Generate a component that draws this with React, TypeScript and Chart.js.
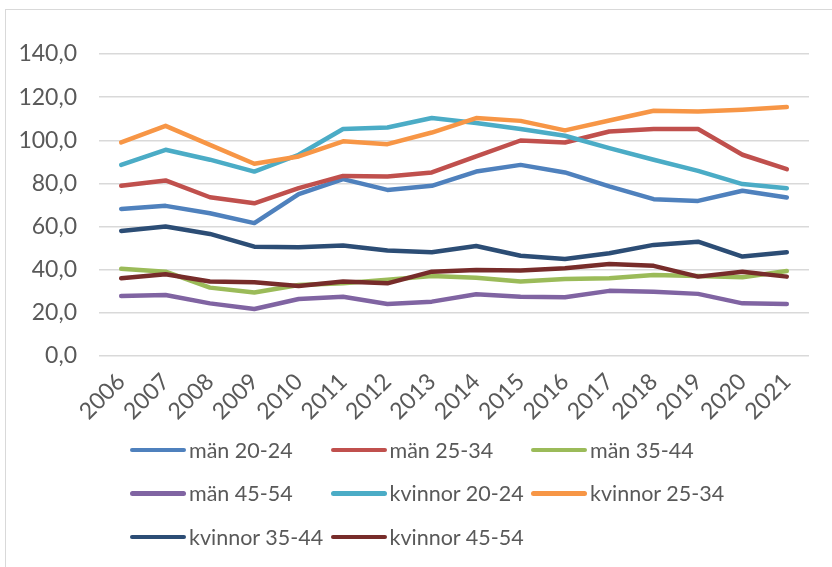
import React, { useEffect, useRef } from "react";
import { Chart, registerables } from "chart.js";

Chart.register(...registerables);

const years = ["2006", "2007", "2008", "2009", "2010", "2011", "2012", "2013", "2014", "2015", "2016", "2017", "2018", "2019", "2020", "2021"];
const man2024 = [68.2, 69.6, 66.2, 61.6, 75.0, 82.0, 77.0, 78.9, 85.5, 88.6, 85.1, 78.6, 72.7, 71.9, 76.6, 73.5];
const man2534 = [78.9, 81.4, 73.6, 70.8, 77.8, 83.5, 83.2, 85.1, 92.5, 99.9, 99.0, 104.1, 105.2, 105.2, 93.3, 86.6];
const man3544 = [40.4, 39.1, 31.7, 29.4, 32.9, 33.7, 35.3, 37.1, 36.3, 34.5, 35.7, 36.0, 37.6, 37.1, 36.5, 39.4];
const man4554 = [27.8, 28.3, 24.4, 21.8, 26.4, 27.5, 24.1, 25.2, 28.6, 27.5, 27.2, 30.2, 29.8, 28.8, 24.4, 24.1];
const kv2024 = [88.6, 95.6, 91.0, 85.5, 93.3, 105.2, 105.9, 110.3, 108.0, 105.2, 102.1, 96.4, 91.0, 85.8, 79.7, 77.8];
const kv2534 = [99.0, 106.7, 97.9, 89.1, 92.5, 99.5, 98.2, 103.6, 110.3, 109.0, 104.6, 109.2, 113.7, 113.4, 114.2, 115.4];
const kv3544 = [58.0, 60.0, 56.6, 50.7, 50.4, 51.2, 48.9, 48.1, 51.0, 46.5, 45.0, 47.6, 51.5, 53.0, 46.1, 48.1];
const kv4554 = [36.0, 37.9, 34.5, 34.2, 32.5, 34.5, 33.7, 39.1, 39.9, 39.6, 40.7, 42.6, 41.8, 36.8, 39.1, 36.8];

const seriesNames = ["män 20-24", "män 25-34", "män 35-44", "män 45-54", "kvinnor 20-24", "kvinnor 25-34", "kvinnor 35-44", "kvinnor 45-54"];
const seriesValues = [man2024, man2534, man3544, man4554, kv2024, kv2534, kv3544, kv4554];
const seriesColors = ["#4F81BD", "#C0504D", "#9BBB59", "#8064A2", "#4BACC6", "#F79646", "#2C4D75", "#772C2A"];

const FONT = "Lato, 'Open Sans', sans-serif";
const TEXT = "#595959";

export default function App() {
  const canvasRef = useRef<HTMLCanvasElement | null>(null);

  useEffect(() => {
    const canvas = canvasRef.current;
    if (!canvas) return;
    const chart = new Chart(canvas, {
      type: "line",
      data: {
        labels: years,
        datasets: seriesNames.map((name, i) => ({
          label: name,
          data: seriesValues[i],
          borderColor: seriesColors[i],
          backgroundColor: seriesColors[i],
          borderWidth: 4.5,
          borderCapStyle: "round" as const,
          borderJoinStyle: "round" as const,
          pointRadius: 0,
          pointHoverRadius: 0,
          tension: 0,
          fill: false,
          order: seriesNames.length - i,
        })),
      },
      options: {
        animation: false,
        responsive: false,
        maintainAspectRatio: false,
        layout: { padding: { left: 0, right: 23, top: 54, bottom: 0 } },
        plugins: {
          legend: { display: false },
          tooltip: { enabled: false },
          title: { display: false },
        },
        scales: {
          x: {
            offset: true,
            grid: { display: false },
            border: { display: false },
            ticks: {
              color: TEXT,
              font: { family: FONT, size: 23 },
              maxRotation: 45,
              minRotation: 45,
              autoSkip: false,
              padding: 4,
            },
            afterFit: (scale: any) => {
              scale.height = 74;
            },
          },
          y: {
            min: 0,
            max: 140,
            border: { display: false },
            grid: { color: "#d9d9d9", lineWidth: 1.5, drawTicks: false },
            ticks: {
              stepSize: 20,
              color: TEXT,
              font: { family: FONT, size: 23 },
              padding: 22,
              callback: (v: any) => Number(v).toFixed(1).replace(".", ","),
            },
            afterFit: (scale: any) => {
              scale.width = 99;
            },
          },
        },
      },
    });
    return () => chart.destroy();
  }, []);

  return (
    <div style={{ position: "absolute", left: 0, top: 0, width: 832, height: 567, overflow: "hidden", background: "#fff", fontFamily: FONT }}>
      <div style={{ position: "absolute", left: 5, top: 9, width: 900, height: 700, borderLeft: "1.5px solid #d9d9d9", borderTop: "1.5px solid #d9d9d9" }} />
      <canvas ref={canvasRef} width={832} height={430} style={{ position: "absolute", left: 0, top: 0, width: 832, height: 430 }} />
      <div
        style={{
          position: "absolute",
          left: 130,
          top: 428,
          display: "grid",
          gridTemplateColumns: "200.5px 200.5px 200.5px",
          gridAutoRows: "43.5px",
        }}
      >
        {seriesNames.map((name, i) => (
          <div key={name} style={{ display: "flex", alignItems: "center", whiteSpace: "nowrap" }}>
            <span style={{ display: "inline-block", flex: "0 0 auto", width: 56, height: 4.5, borderRadius: 2.5, background: seriesColors[i] }} />
            <span style={{ marginLeft: 3, fontSize: 21.5, color: TEXT }}>{name}</span>
          </div>
        ))}
      </div>
    </div>
  );
}
